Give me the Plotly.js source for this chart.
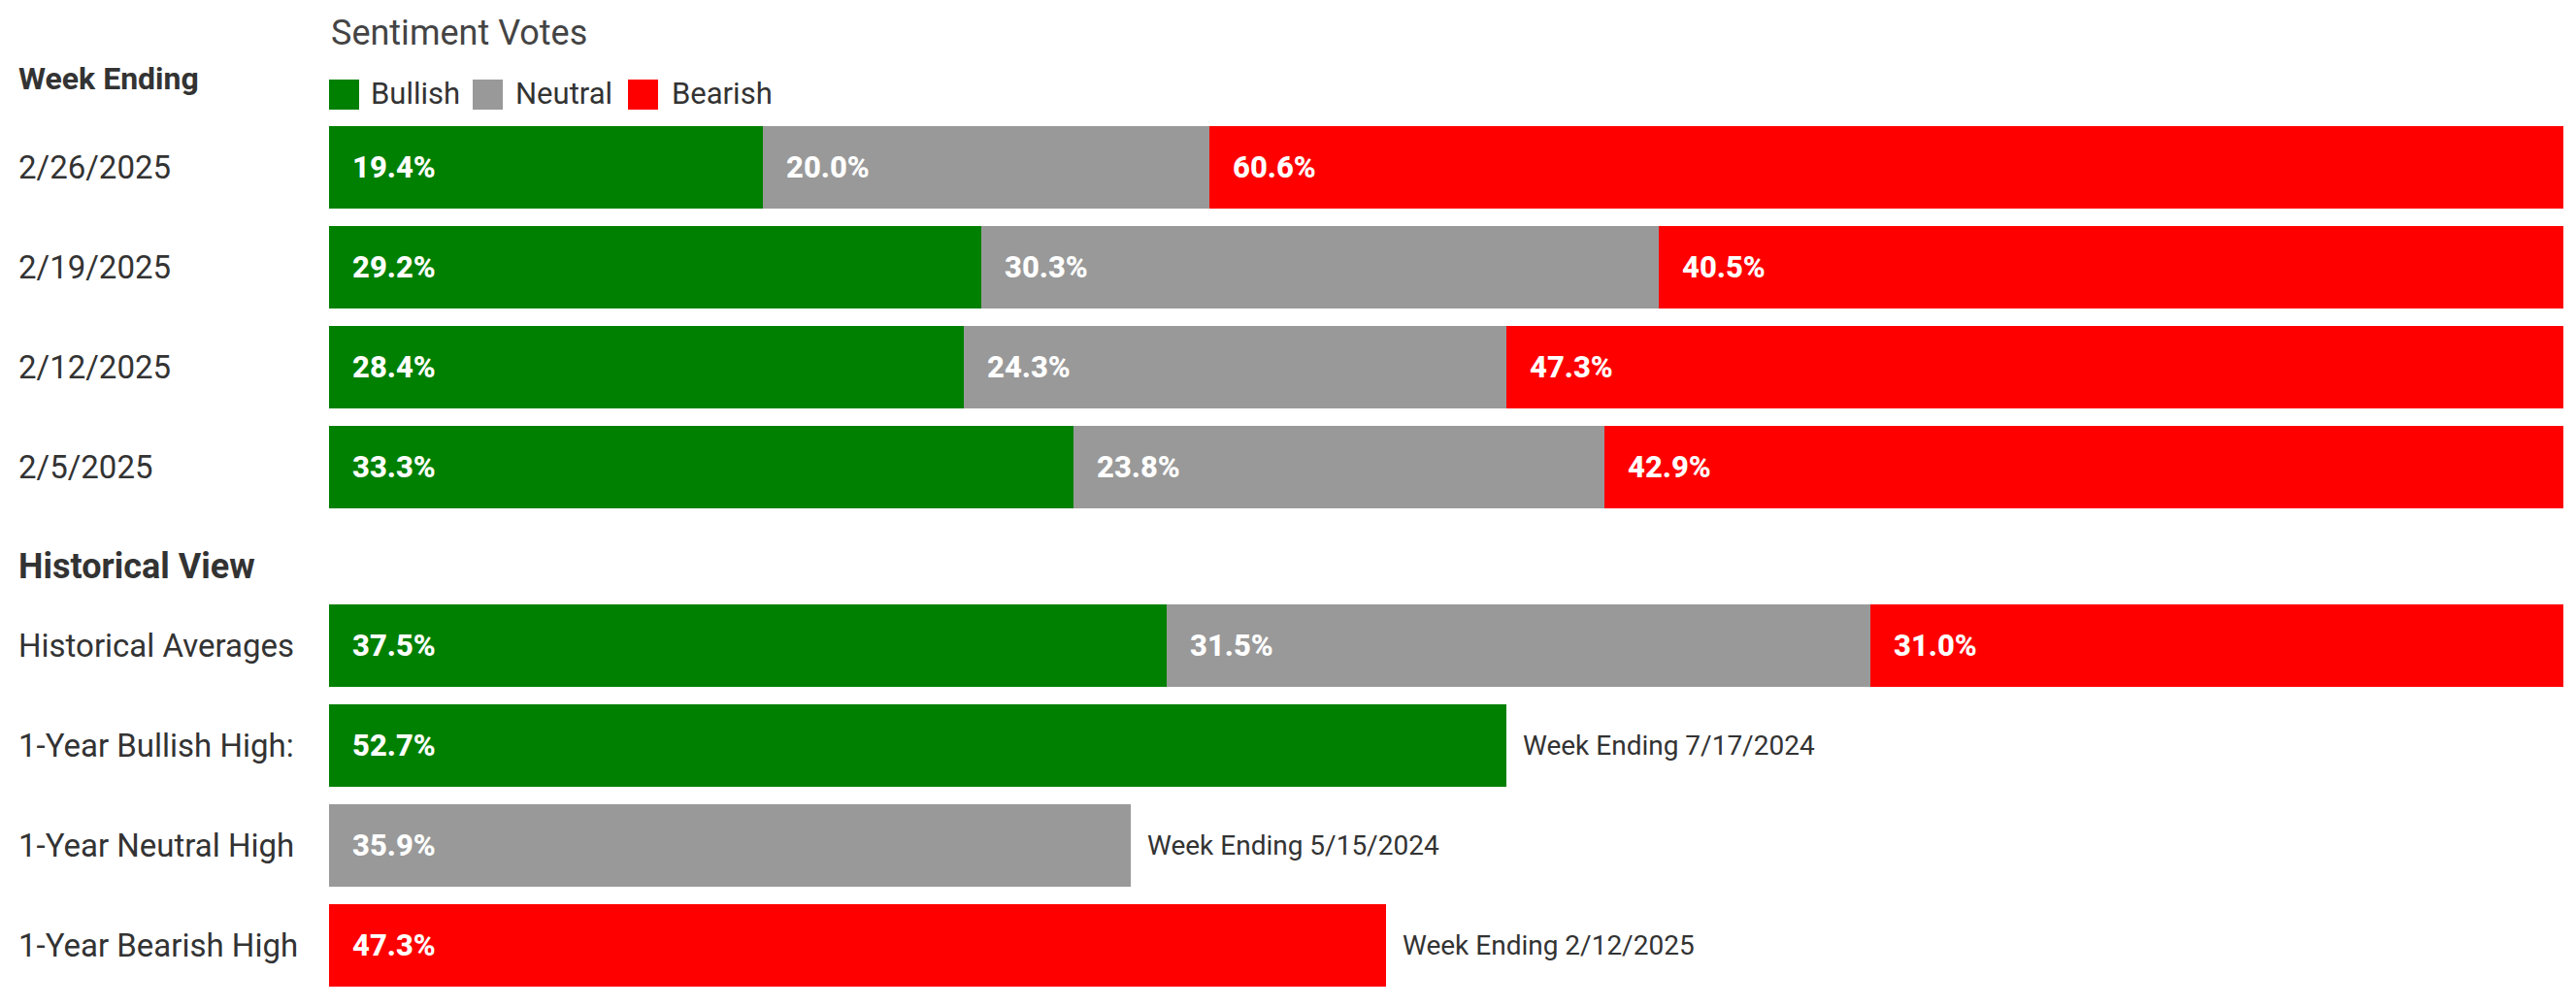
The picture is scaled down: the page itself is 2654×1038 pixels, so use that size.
<!DOCTYPE html>
<html>
<head>
<meta charset="utf-8">
<script src="https://cdn.plot.ly/plotly-3.0.1.min.js"></script>
<style>
  html, body { margin: 0; padding: 0; background: #ffffff; }
  #chart { width: 2654px; height: 1038px; }
</style>
</head>
<body>
<div id="chart"></div>
<script>
// ---- Data ----
const weekCategories = ['2/26/2025', '2/19/2025', '2/12/2025', '2/5/2025'];
const weekBullish = [19.4, 29.2, 28.4, 33.3];
const weekNeutral = [20.0, 30.3, 24.3, 23.8];
const weekBearish = [60.6, 40.5, 47.3, 42.9];

const histCategories = ['Historical Averages', '1-Year Bullish High:', '1-Year Neutral High', '1-Year Bearish High'];
const histBullish = [37.5, 52.7, null, null];
const histNeutral = [31.5, null, 35.9, null];
const histBearish = [31.0, null, null, 47.3];
const histNotes = ['', 'Week Ending 7/17/2024', 'Week Ending 5/15/2024', 'Week Ending 2/12/2025'];

const seriesNames = ['Bullish', 'Neutral', 'Bearish'];
const seriesColors = ['#008000', '#999999', '#ff0000'];

// ---- Layout constants ----
const W = 2654, H = 1038;
const ML = 339, MR = 13;
const plotW = W - ML - MR;
const FONT = 'Roboto, "Noto Sans", sans-serif';
const textDark = '#333333';
const px2paperX = p => (p - ML) / plotW;
const px2paperY = p => 1 - p / H;

const traces = [];
const weekSeries = [weekBullish, weekNeutral, weekBearish];
const histSeries = [histBullish, histNeutral, histBearish];

weekSeries.forEach((vals, i) => {
  traces.push({
    type: 'bar', orientation: 'h', name: seriesNames[i],
    y: weekCategories, x: vals, yaxis: 'y', xaxis: 'x',
    marker: { color: seriesColors[i], line: { width: 0 } },
    showlegend: false, hoverinfo: 'x+y+name'
  });
});
histSeries.forEach((vals, i) => {
  traces.push({
    type: 'bar', orientation: 'h', name: seriesNames[i],
    y: histCategories, x: vals, yaxis: 'y2', xaxis: 'x',
    marker: { color: seriesColors[i], line: { width: 0 } },
    showlegend: false, hoverinfo: 'x+y+name'
  });
});

const annotations = [];
// value labels inside bars, placed at each segment start via data coords
function addValueLabels(cats, seriesList, yref) {
  cats.forEach((c, r) => {
    let base = 0;
    seriesList.forEach(vals => {
      const v = vals[r];
      if (v === null || v === undefined) return;
      annotations.push({
        xref: 'x', yref: yref, x: base, y: c,
        xanchor: 'left', yanchor: 'middle', xshift: 22,
        text: v.toFixed(1) + '%', showarrow: false,
        font: { family: FONT, size: 31, color: '#ffffff', weight: 800 }
      });
      base += v;
    });
  });
}
addValueLabels(weekCategories, weekSeries, 'y');
addValueLabels(histCategories, histSeries, 'y2');

// row labels (left aligned)
function addRowLabels(cats, yref) {
  cats.forEach(c => {
    annotations.push({
      xref: 'paper', yref: yref, x: 0, y: c, xshift: -(ML - 17),
      xanchor: 'left', yanchor: 'middle', text: c, showarrow: false,
      font: { family: FONT, size: 33, color: textDark }
    });
  });
}
addRowLabels(weekCategories, 'y');
addRowLabels(histCategories, 'y2');

// notes to the right of single-series historical bars
histCategories.forEach((c, r) => {
  if (!histNotes[r]) return;
  let total = 0;
  histSeries.forEach(vals => { if (vals[r] !== null) total += vals[r]; });
  annotations.push({
    xref: 'x', yref: 'y2', x: total, y: c, xshift: 15,
    xanchor: 'left', yanchor: 'middle', text: histNotes[r], showarrow: false,
    font: { family: FONT, size: 28, color: textDark }
  });
});

// headers
annotations.push({
  xref: 'paper', yref: 'paper', x: 0, y: px2paperY(34), xanchor: 'left', yanchor: 'middle',
  text: 'Sentiment Votes', showarrow: false, font: { family: FONT, size: 36, color: '#444444' }
});
annotations.push({
  xref: 'paper', yref: 'paper', x: 0, xshift: -(ML - 17), y: px2paperY(81), xanchor: 'left', yanchor: 'middle',
  text: 'Week Ending', showarrow: false, font: { family: FONT, size: 32, color: textDark, weight: 700 }
});
annotations.push({
  xref: 'paper', yref: 'paper', x: 0, xshift: -(ML - 17), y: px2paperY(584), xanchor: 'left', yanchor: 'middle',
  text: 'Historical View', showarrow: false, font: { family: FONT, size: 36, color: textDark, weight: 700 }
});

// manual legend (large square swatches)
const shapes = [];
const legendItems = [
  { sq: 339, tx: 380 },
  { sq: 487, tx: 529 },
  { sq: 647, tx: 690 }
];
legendItems.forEach((it, i) => {
  shapes.push({
    type: 'rect', xref: 'paper', yref: 'paper',
    x0: px2paperX(it.sq), x1: px2paperX(it.sq + 31),
    y0: px2paperY(113), y1: px2paperY(82),
    fillcolor: seriesColors[i], line: { width: 0 }
  });
  annotations.push({
    xref: 'paper', yref: 'paper', x: px2paperX(it.tx), y: px2paperY(97),
    xanchor: 'left', yanchor: 'middle', text: seriesNames[i], showarrow: false,
    font: { family: FONT, size: 31, color: textDark }
  });
});

const layout = {
  width: W, height: H,
  margin: { l: ML, r: MR, t: 0, b: 0, pad: 0 },
  paper_bgcolor: '#ffffff', plot_bgcolor: '#ffffff',
  barmode: 'stack', bargap: 0.175,
  showlegend: false,
  xaxis: { range: [0, 100], visible: false, fixedrange: true },
  yaxis: {
    type: 'category', categoryorder: 'array', categoryarray: weekCategories,
    range: [3.5, -0.5], domain: [px2paperY(533), px2paperY(121)],
    visible: false, fixedrange: true
  },
  yaxis2: {
    type: 'category', categoryorder: 'array', categoryarray: histCategories,
    range: [3.5, -0.5], domain: [px2paperY(1026), px2paperY(614)],
    anchor: 'x', visible: false, fixedrange: true
  },
  annotations: annotations,
  shapes: shapes,
  font: { family: FONT, color: textDark }
};

Plotly.newPlot('chart', traces, layout, { displayModeBar: false, staticPlot: true });
</script>
</body>
</html>
